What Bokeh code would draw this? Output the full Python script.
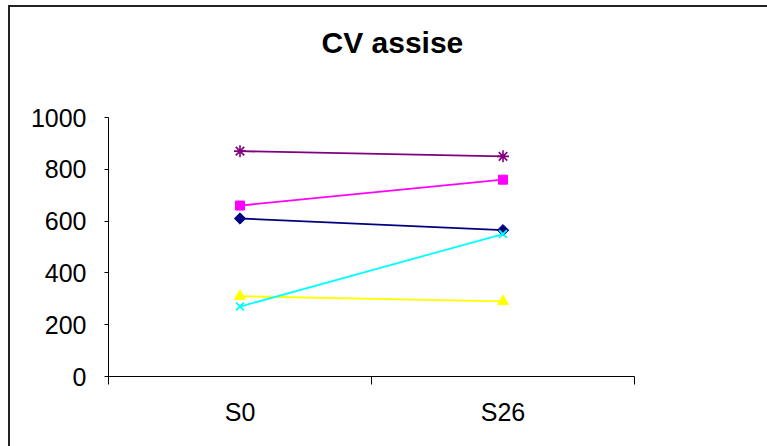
import math
from bokeh.plotting import figure
from bokeh.models import Range1d, FixedTicker, Title
from bokeh.embed import file_html
from bokeh.resources import INLINE

# ---- data ----
categories = ["S0", "S26"]
series_a = [610, 565]   # navy diamond
series_b = [660, 760]   # magenta square
series_c = [310, 290]   # yellow triangle
series_d = [270, 550]   # cyan x
series_e = [870, 850]   # purple asterisk
y_ticks = [0, 200, 400, 600, 800, 1000]
title_text = "CV assise"

xs = [i + 0.5 for i in range(len(categories))]

FONT = "Liberation Sans"

p = figure(width=767, height=446, output_backend="svg", toolbar_location=None,
           x_range=Range1d(0, len(categories)), y_range=Range1d(0, 1000),
           min_border_left=108, min_border_right=133, min_border_top=117,
           min_border_bottom=70)
p.title = None
p.outline_line_color = None
p.grid.grid_line_color = None
p.background_fill_color = "white"
p.border_fill_color = None
p.styles = {
    "background-color": "white",
    "background-image": "linear-gradient(#222222, #222222), linear-gradient(#222222, #222222)",
    "background-size": "100% 2px, 2px 100%",
    "background-position": "8px 5px, 8px 5px",
    "background-repeat": "no-repeat, no-repeat",
}

# spacer between frame and title (first added = closest to frame)
spacer = Title(text=" ", text_font_size="1px", standoff=44)
p.add_layout(spacer, "above")
title = Title(text=title_text, align="left", text_font=FONT,
              text_font_size="30px", text_font_style="bold", text_color="black",
              standoff=24, offset=213)
p.add_layout(title, "above")

# x axis
xax = p.xaxis[0]
xax.ticker = FixedTicker(ticks=xs, minor_ticks=list(range(len(categories) + 1)))
xax.major_label_overrides = {x: c for x, c in zip(xs, categories)}
xax.major_tick_out = 0
xax.major_tick_in = 0
xax.minor_tick_out = 8
xax.minor_tick_in = 0
xax.minor_tick_line_color = "black"
xax.major_label_text_font = FONT
xax.major_label_text_font_size = "25px"
xax.major_label_text_color = "black"
xax.major_label_standoff = 13
xax.axis_line_color = "black"

# y axis
yax = p.yaxis[0]
yax.ticker = FixedTicker(ticks=y_ticks, minor_ticks=[])
yax.major_tick_out = 4
yax.major_tick_in = 0
yax.major_tick_line_color = "black"
yax.major_label_text_font = FONT
yax.major_label_text_font_size = "25px"
yax.major_label_text_color = "black"
yax.major_label_standoff = 18
yax.axis_line_color = "black"

lw = 1.8
p.line(xs, series_a, line_color="#000080", line_width=lw)
p.scatter(xs, series_a, marker="square", angle=math.pi / 4, size=8,
          fill_color="#000080", line_color="#000080")

p.line(xs, series_b, line_color="#FF00FF", line_width=lw)
p.scatter(xs, series_b, marker="square", size=9,
          fill_color="#FF00FF", line_color="#FF00FF")

p.line(xs, series_c, line_color="#FFFF00", line_width=lw)
p.scatter(xs, series_c, marker="triangle", size=11,
          fill_color="#FFFF00", line_color="#FFFF00")

p.line(xs, series_d, line_color="#00FFFF", line_width=lw)
p.scatter(xs, series_d, marker="x", size=11, line_width=1.8,
          line_color="#00FFFF")

p.line(xs, series_e, line_color="#800080", line_width=lw)
p.scatter(xs, series_e, marker="asterisk", size=12, line_width=1.6,
          line_color="#800080")

open("out.html", "w").write(file_html(p, INLINE))
